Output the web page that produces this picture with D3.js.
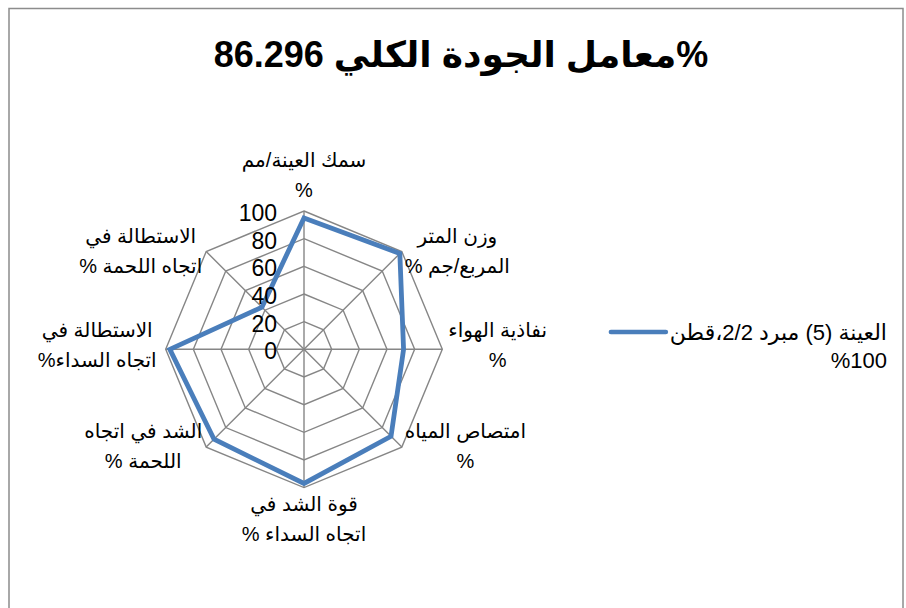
<!DOCTYPE html>
<html>
<head>
<meta charset="utf-8">
<script src="https://cdn.jsdelivr.net/npm/d3@7"></script>
<style>
  body { margin: 0; background: #fff; }
  text { font-family: "Liberation Sans", Arial, "DejaVu Sans", sans-serif; fill: #000; }
</style>
</head>
<body>
<div class="chart_area"></div>
<script>
var title_text = "%معامل الجودة الكلي 86.296";
var categories = [
    ["سمك العينة/مم", "%"],
    ["وزن المتر", "المربع/جم %"],
    ["نفاذية الهواء", "%"],
    ["امتصاص المياه", "%"],
    ["قوة الشد في", "اتجاه السداء %"],
    ["الشد في اتجاه", "اللحمة %"],
    ["الاستطالة في", "اتجاه السداء%"],
    ["الاستطالة في", "اتجاه اللحمة %"]
];
var series_values = [95, 98, 72, 89, 97, 92, 97, 43];
var series_name = ["العينة (5) مبرد 2/2،قطن", "%100"];
var tick_values = [0, 20, 40, 60, 80, 100];

var width = 906, height = 608;
var cx = 304, cy = 349.3, R = 138.3;
var gridColor = "#868686", lineColor = "#4A7EBB";

var svg = d3.select(".chart_area")
    .append("svg")
    .attr("width", width)
    .attr("height", height);

// chart area border
svg.append("rect")
    .attr("x", 9).attr("y", 8.5)
    .attr("width", 894).attr("height", 700)
    .attr("fill", "#fff")
    .attr("stroke", "#8c8c8c")
    .attr("stroke-width", 1.5);

svg.append("text")
    .attr("x", 461).attr("y", 67)
    .attr("text-anchor", "middle")
    .attr("direction", "rtl")
    .style("font-size", "36px")
    .style("font-weight", "bold")
    .text(title_text);

var r = d3.scaleLinear().domain([0, 100]).range([0, R]);
var ang = d3.scaleLinear().domain([0, categories.length]).range([0, 2 * Math.PI]);

function px(i, v) { return cx + r(v) * Math.sin(ang(i)); }
function py(i, v) { return cy - r(v) * Math.cos(ang(i)); }

var g = svg.append("g");
var idx = d3.range(categories.length);

// rings
g.selectAll(".ring")
    .data(tick_values.slice(1))
    .enter()
    .append("polygon")
    .attr("class", "ring")
    .attr("points", function (t) {
        return idx.map(function (i) { return px(i, t) + "," + py(i, t); }).join(" ");
    })
    .attr("fill", "none")
    .attr("stroke", gridColor)
    .attr("stroke-width", 1.4);

// spokes
g.selectAll(".spoke")
    .data(idx)
    .enter()
    .append("line")
    .attr("class", "spoke")
    .attr("x1", cx).attr("y1", cy)
    .attr("x2", function (i) { return px(i, 100); })
    .attr("y2", function (i) { return py(i, 100); })
    .attr("stroke", gridColor)
    .attr("stroke-width", 1.4);

// data line
var line = d3.lineRadial()
    .angle(function (d, i) { return ang(i); })
    .radius(function (d) { return r(d); })
    .curve(d3.curveLinearClosed);

g.append("path")
    .datum(series_values)
    .attr("transform", "translate(" + cx + "," + cy + ")")
    .attr("d", line)
    .attr("fill", "none")
    .attr("stroke", lineColor)
    .attr("stroke-width", 4.8)
    .attr("stroke-linejoin", "miter");

// tick labels
g.selectAll(".tick_lbl")
    .data(tick_values)
    .enter()
    .append("text")
    .attr("class", "tick_lbl")
    .attr("x", 277)
    .attr("y", function (t) { return cy - r(t) + 10; })
    .attr("text-anchor", "end")
    .style("font-size", "23px")
    .text(function (t) { return t; });

// category labels
var lh = 30;
categories.forEach(function (lines, i) {
    var vx = px(i, 100), vy = py(i, 100);
    var s = Math.sin(ang(i)), c = Math.cos(ang(i));
    var lg = svg.append("g");
    var texts = lines.map(function (l) {
        return lg.append("text")
            .attr("direction", "rtl")
            .attr("text-anchor", "middle")
            .style("font-size", "20px")
            .text(l);
    });
    var w = d3.max(texts, function (t) { return t.node().getComputedTextLength(); });
    var bx, by;
    if (Math.abs(s) < 0.1) {
        bx = vx;
        by = c > 0 ? vy - 14 - lh * (lines.length - 1) : vy + 23;
    } else if (Math.abs(c) < 0.1) {
        bx = s > 0 ? vx + 6 + w / 2 : vx - 9 - w / 2;
        by = vy - 12;
    } else {
        bx = s > 0 ? vx + 3 + w / 2 : vx - 4 - w / 2;
        by = vy - 9;
    }
    texts.forEach(function (t, k) {
        t.attr("x", bx).attr("y", by + k * lh);
    });
});

// legend
var leg = svg.append("g");
var legTexts = series_name.map(function (l, k) {
    return leg.append("text")
        .attr("x", 887)
        .attr("y", 340 + k * 28)
        .attr("direction", "rtl")
        .attr("text-anchor", "start")
        .style("font-size", "22px")
        .text(l);
});
var lw = legTexts[0].node().getComputedTextLength();
leg.append("line")
    .attr("x1", 887 - lw - 59).attr("x2", 887 - lw - 4)
    .attr("y1", 332).attr("y2", 332)
    .attr("stroke", lineColor)
    .attr("stroke-width", 4.5)
    .attr("stroke-linecap", "round");
</script>
</body>
</html>
